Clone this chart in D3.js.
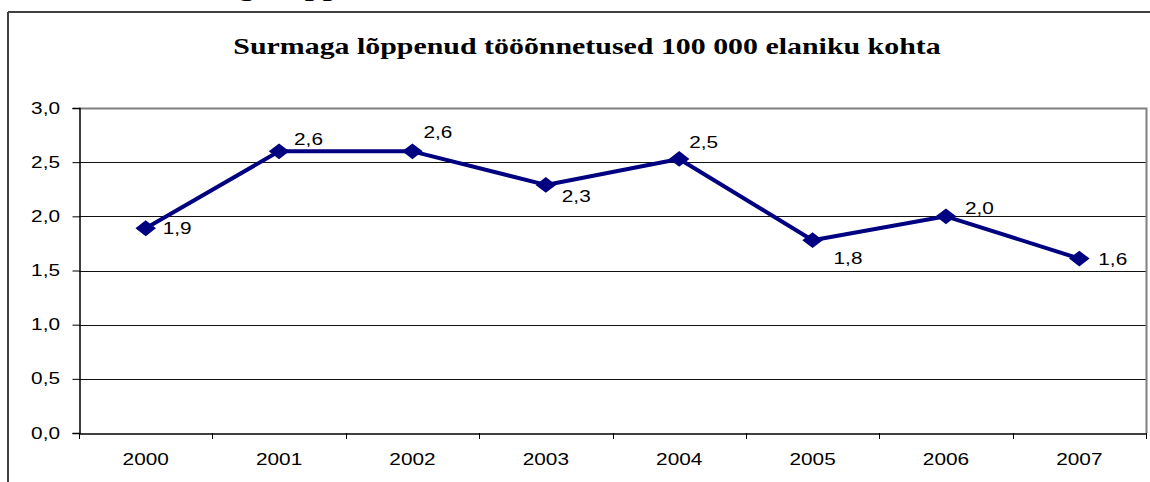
<!DOCTYPE html>
<html><head><meta charset="utf-8">
<script src="https://cdn.jsdelivr.net/npm/d3@7"></script>
<style>body{margin:0;background:#fff}svg{display:block}</style>
</head><body>
<script>
const title = "Surmaga lõppenud tööõnnetused 100 000 elaniku kohta";
const headingFragment = "Surmaga lõppenud";
const years = ["2000","2001","2002","2003","2004","2005","2006","2007"];
const values = [1.89, 2.60, 2.60, 2.29, 2.53, 1.78, 2.00, 1.61];
const yTicks = [0, 0.5, 1.0, 1.5, 2.0, 2.5, 3.0];

const W = 1150, H = 482;
const SX = 1.3; // horizontal stretch of the original picture
const svg = d3.select("body").append("svg").attr("width", W).attr("height", H);
const m = {left: 79, right: 1146, top: 108, bottom: 433};
const fmt = d => d3.format(".1f")(d).replace(".", ",");

// cut-off heading above the frame
svg.append("text").attr("transform", `translate(145,-4.5) scale(${SX},1)`)
  .attr("font-family", "Liberation Serif").attr("font-weight", "bold")
  .attr("font-size", 25).attr("fill", "#000").text(headingFragment);

// outer frame
svg.append("line").attr("x1", 8).attr("x2", W).attr("y1", 12).attr("y2", 12)
  .attr("stroke", "#404040").attr("stroke-width", 2);
svg.append("line").attr("x1", 8).attr("x2", 8).attr("y1", 12).attr("y2", H)
  .attr("stroke", "#404040").attr("stroke-width", 2);

svg.append("text").attr("transform", `translate(587,54) scale(${SX},1)`).attr("text-anchor", "middle")
  .attr("font-family", "Liberation Serif").attr("font-weight", "bold")
  .attr("font-size", 23).attr("fill", "#000").text(title);

const x = d3.scaleBand().domain(years).range([m.left, m.right]);
const y = d3.scaleLinear().domain([0, 3]).range([m.bottom, m.top]);

// gridlines
svg.append("g").selectAll("line").data(yTicks.filter(t => t > 0 && t < 3)).join("line")
  .attr("x1", m.left).attr("x2", m.right)
  .attr("y1", d => Math.round(y(d)) + 0.5).attr("y2", d => Math.round(y(d)) + 0.5)
  .attr("stroke", "#111").attr("stroke-width", 1);

// plot border top/right (gray)
svg.append("path")
  .attr("d", `M${m.left},${m.top + 0.5}H${m.right + 0.5}V${m.bottom}`)
  .attr("fill", "none").attr("stroke", "#808080").attr("stroke-width", 2);

// y axis
const gy = svg.append("g").attr("transform", `translate(${m.left + 0.5},0)`)
  .call(d3.axisLeft(y).tickValues(yTicks).tickSize(7).tickFormat(fmt));
gy.select(".domain").attr("stroke", "#000").attr("stroke-width", 1.5);
gy.selectAll(".tick line").attr("stroke", "#000");
gy.selectAll("text").attr("x", 0).attr("transform", `translate(-19.5,0) scale(${SX},1)`)
  .attr("font-family", "Liberation Sans").attr("font-size", 16).attr("fill", "#000");

// x axis
const gx = svg.append("g").attr("transform", `translate(0,${m.bottom + 0.5})`)
  .call(d3.axisBottom(x).tickSize(0).tickPadding(20));
gx.select(".domain").attr("stroke", "#000").attr("stroke-width", 1.5);
gx.selectAll("text").attr("transform", `scale(${SX},1)`)
  .attr("font-family", "Liberation Sans").attr("font-size", 16).attr("fill", "#000");
// category boundary ticks
const bounds = years.map(d => x(d)).concat([x(years[years.length - 1]) + x.bandwidth()]);
svg.append("g").selectAll("line").data(bounds).join("line")
  .attr("x1", d => Math.round(d) + 0.5).attr("x2", d => Math.round(d) + 0.5)
  .attr("y1", m.bottom).attr("y2", m.bottom + 6).attr("stroke", "#000");

const cx = (d, i) => x(years[i]) + x.bandwidth() / 2;

svg.append("path").datum(values)
  .attr("d", d3.line().x(cx).y(d => y(d)))
  .attr("fill", "none").attr("stroke", "#000080").attr("stroke-width", 4)
  .attr("stroke-linejoin", "round");

// diamond markers, stretched like the picture
const diamond = {draw(ctx, size) { const a = Math.sqrt(size) / 2;
  ctx.moveTo(0, -a); ctx.lineTo(a * SX, 0); ctx.lineTo(0, a); ctx.lineTo(-a * SX, 0); ctx.closePath(); }};
svg.append("g").selectAll("path").data(values).join("path")
  .attr("d", d3.symbol().type(diamond).size(250))
  .attr("transform", (d, i) => `translate(${cx(d, i)},${y(d)})`)
  .attr("fill", "#000080");

// data labels, offsets as placed in the original
const labelOffset = [[17, 6], [15, -6], [11, -13], [16, 17], [10, -11], [21, 24], [19, -2], [19, 6]];
svg.append("g").selectAll("text").data(values).join("text")
  .attr("transform", (d, i) => `translate(${cx(d, i) + labelOffset[i][0]},${y(d) + labelOffset[i][1]}) scale(${SX},1)`)
  .attr("font-family", "Liberation Sans").attr("font-size", 16).attr("fill", "#000")
  .text(fmt);
</script>
</body></html>
